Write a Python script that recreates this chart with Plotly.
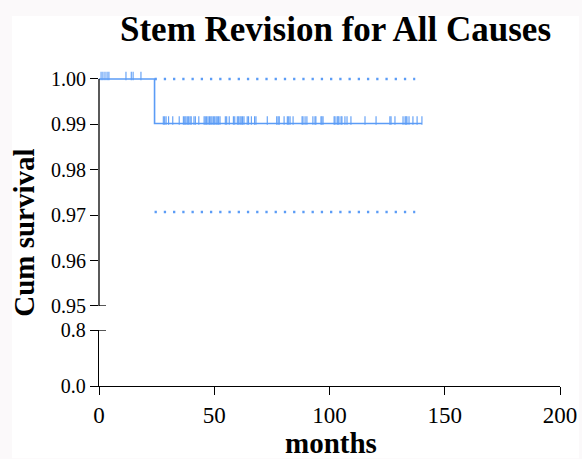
import plotly.graph_objects as go

# ---- data ----
event_times = [0.0, 24.1, 140.1]          # step positions (months)
surv_values = [1.0, 0.9902, 0.9902]       # cumulative survival
ci_times = [24.1, 137.2]
ci_upper = [1.0, 1.0]
ci_lower = [0.9707, 0.9707]
censor_months = [0.9, 1.7, 2.6, 3.5, 4.3, 11.7, 14.0, 14.8, 18.2,
                 27.9, 28.5, 29.1, 30.2, 32.0, 34.8, 36.6, 37.2, 37.7, 38.3, 38.9,
                 39.5, 40.0, 41.2, 41.8, 43.3, 45.6, 46.1, 46.7, 47.3, 47.9, 48.5,
                 49.0, 49.6, 50.2, 50.8, 51.3, 51.9, 52.5, 54.8, 55.4, 56.5, 58.3,
                 58.9, 60.0, 60.6, 61.2, 61.7, 62.3, 62.9, 64.3, 64.9, 66.1, 67.5,
                 68.1, 73.0, 77.1, 77.7, 78.2, 80.3, 81.7, 82.3, 82.9, 84.2, 88.1,
                 88.5, 89.4, 90.2, 92.8, 93.7, 94.1, 96.3, 96.7, 97.2, 102.0, 102.4,
                 103.3, 103.7, 104.1, 105.0, 105.4, 106.7, 107.6, 109.3, 115.4,
                 120.2, 126.2, 126.7, 128.4, 131.9, 132.8, 133.2, 133.6, 134.5,
                 136.2, 138.0, 140.1]
x_ticks = [0, 50, 100, 150, 200]
y_upper_ticks = [0.95, 0.96, 0.97, 0.98, 0.99, 1.00]
y_lower_ticks = [0.0, 0.8]

BLUE = "#5b9cf6"
SERIF = "Liberation Serif, Times New Roman, serif"


def surv_at(t):
    s = surv_values[0]
    for et, sv in zip(event_times, surv_values):
        if t >= et:
            s = sv
    return s


fig = go.Figure()

# KM step curve
fig.add_trace(go.Scatter(x=event_times, y=surv_values, mode="lines",
                         line=dict(color=BLUE, width=1.6, shape="hv"),
                         xaxis="x", yaxis="y", hoverinfo="skip", showlegend=False))
# CI lines
for ci in (ci_upper, ci_lower):
    fig.add_trace(go.Scatter(x=ci_times, y=ci, mode="lines",
                             line=dict(color=BLUE, width=2.4, dash="2.3px,6.935px"),
                             xaxis="x", yaxis="y", hoverinfo="skip", showlegend=False))
# censor marks (short vertical ticks sitting on the curve)
offset = 0.00066
fig.add_trace(go.Scatter(x=censor_months, y=[surv_at(t) + offset for t in censor_months],
                         mode="markers", cliponaxis=False,
                         marker=dict(symbol="line-ns-open", size=6, color=BLUE,
                                     line=dict(color=BLUE, width=1.1)),
                         xaxis="x", yaxis="y", hoverinfo="skip", showlegend=False))
# invisible trace for the lower panel
fig.add_trace(go.Scatter(x=[0], y=[0], mode="markers", marker=dict(opacity=0),
                         xaxis="x", yaxis="y2", hoverinfo="skip", showlegend=False))

axis_common = dict(showgrid=False, zeroline=False, ticks="outside", ticklen=8,
                   tickwidth=1.3, tickcolor="black", automargin=False,
                   tickfont=dict(family=SERIF, size=20, color="black"))

fig.update_layout(
    width=582, height=459,
    margin=dict(l=99, r=22, t=72, b=73, autoexpand=False),
    paper_bgcolor="#fbf9fa", plot_bgcolor="white",
    xaxis=dict(domain=[0, 1], range=[0, 200], anchor="y2", tickvals=x_ticks,
               showline=True, linecolor="black", linewidth=1.3,
               **{**axis_common, "tickfont": dict(family=SERIF, size=23, color="black")}),
    yaxis=dict(domain=[0.2548, 1], range=[0.95, 1.00154], anchor="x",
               tickvals=y_upper_ticks, ticktext=[f"{v:.2f}" for v in y_upper_ticks],
               showline=False, **axis_common),
    yaxis2=dict(domain=[0, 0.1783], range=[0, 0.8], anchor="x",
                tickvals=y_lower_ticks, ticktext=[f"{v:.1f}" for v in y_lower_ticks],
                showline=True, linecolor="black", linewidth=1.3, **axis_common),
    shapes=[
        dict(type="rect", xref="paper", yref="paper", x0=-0.1887, x1=1.0412,
             y0=-0.23, y1=1.1783, fillcolor="white", line=dict(width=0), layer="below"),
        dict(type="line", xref="x domain", yref="y", x0=0, x1=0, y0=0.95, y1=1.0,
             line=dict(color="black", width=1.3)),
        dict(type="line", xref="x domain", yref="y", x0=0, x1=0.0152, y0=0.95, y1=0.95,
             line=dict(color="black", width=1.3)),
        dict(type="line", xref="x domain", yref="y2", x0=0, x1=0.0152, y0=0.8, y1=0.8,
             line=dict(color="black", width=1.3)),
    ],
    annotations=[
        dict(text="<b>Stem Revision for All Causes</b>", xref="paper", yref="paper",
             x=0.512, y=1.136, xanchor="center", yanchor="middle", showarrow=False,
             font=dict(family=SERIF, size=35, color="black")),
        dict(text="<b>Cum survival</b>", xref="paper", yref="paper", textangle=-90,
             x=-0.162, y=0.4889, xanchor="center", yanchor="middle", showarrow=False,
             font=dict(family=SERIF, size=29, color="black")),
        dict(text="<b>months</b>", xref="paper", yref="paper",
             x=0.503, y=-0.181, xanchor="center", yanchor="middle", showarrow=False,
             font=dict(family=SERIF, size=29, color="black")),
    ],
)

fig.write_html("out.html")
